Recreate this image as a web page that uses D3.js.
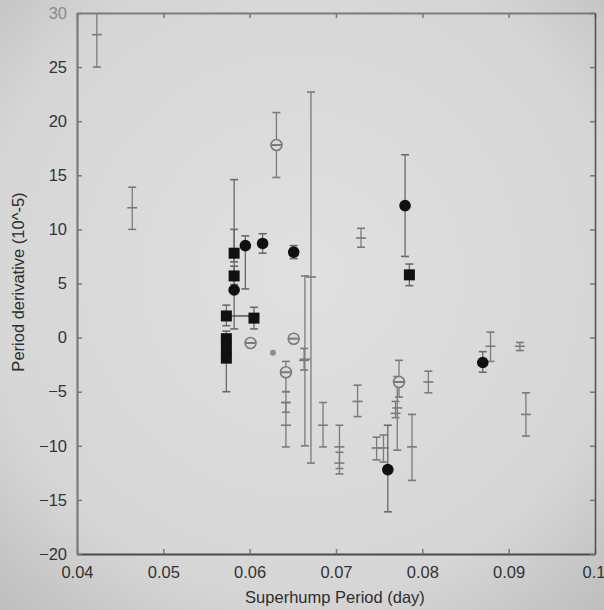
<!DOCTYPE html>
<html><head><meta charset="utf-8">
<script src="https://cdn.jsdelivr.net/npm/d3@7"></script>
<style>html,body{margin:0;padding:0;background:#d4d4d4;overflow:hidden}</style>
</head><body>
<svg id="c" width="604" height="610"></svg>
<script>
// ---- data ----
const xTicks = [0.04, 0.05, 0.06, 0.07, 0.08, 0.09, 0.1];
const yTicks = [-20, -15, -10, -5, 0, 5, 10, 15, 20, 25, 30];
const xTickLabels = ["0.04", "0.05", "0.06", "0.07", "0.08", "0.09", "0.1"];

// filled squares
const sqX  = [0.0582, 0.0582, 0.0573, 0.0605, 0.0573, 0.0573, 0.0573, 0.0785];
const sqY  = [7.8, 5.7, 2.0, 1.8, -0.1, -1.0, -1.9, 5.8];
const sqLo = [7.0, 4.9, 1.1, 0.8, -0.1, -1.0, -5.0, 4.8];
const sqHi = [10.0, 6.6, 3.0, 2.8, 0.6, -1.0, -1.9, 6.8];
// horizontal error bar (square at 0.0573, 2.0)
const hbarY = [2.0];
const hbarLo = [0.0573];
const hbarHi = [0.0605];

// filled circles
const ciX  = [0.0582, 0.0595, 0.0615, 0.0651, 0.0780, 0.0870, 0.0760];
const ciY  = [4.4, 8.5, 8.7, 7.9, 12.2, -2.3, -12.2];
const ciLo = [0.8, 4.5, 7.8, 7.3, 7.5, -3.2, -16.1];
const ciHi = [14.6, 9.4, 9.6, 8.5, 16.9, -1.3, -8.1];

// open circles with bar
const opX  = [0.0631, 0.0601, 0.0651, 0.0642, 0.0773];
const opY  = [17.8, -0.5, -0.1, -3.2, -4.1];
const opLo = [14.8, -0.5, -0.1, -5.0, -5.5];
const opHi = [20.8, -0.5, -0.1, -2.2, -2.1];

// small dot
const dotX = [0.0627];
const dotY = [-1.4];

// gray "+" points with error bars
const plX  = [0.0423, 0.0464, 0.0642, 0.0642, 0.0664, 0.0663, 0.0671, 0.0685, 0.0704, 0.0704, 0.0725, 0.0729, 0.0747, 0.0755, 0.0771, 0.0769, 0.0788, 0.0807, 0.0879, 0.0913, 0.0920];
const plY  = [28.0, 12.0, -8.1, -6.0, -2.0, -2.1, 5.6, -8.1, -10.1, -11.6, -5.9, 9.2, -10.2, -10.2, -6.5, -7.0, -10.1, -4.1, -0.8, -0.8, -7.1];
const plLo = [25.0, 10.0, -10.1, -6.9, -10.0, -3.0, -11.6, -10.1, -12.1, -12.6, -7.3, 8.35, -11.3, -11.5, -10.4, -7.4, -13.2, -5.1, -2.2, -1.2, -9.1];
const plHi = [31.0, 13.9, -6.0, -5.0, 5.7, -1.0, 22.7, -6.0, -8.1, -10.6, -4.4, 10.1, -9.2, -9.0, -3.6, -5.9, -7.1, -3.1, 0.5, -0.45, -5.1];

// ---- drawing ----
const W = 604, H = 610;
const svg = d3.select("#c");
const defs = svg.append("defs");
const grad = defs.append("radialGradient").attr("id", "bg").attr("cx", "50%").attr("cy", "45%").attr("r", "75%");
grad.append("stop").attr("offset", "0%").attr("stop-color", "#e0e0e0");
grad.append("stop").attr("offset", "70%").attr("stop-color", "#d6d6d6");
grad.append("stop").attr("offset", "100%").attr("stop-color", "#bdbdbd");
svg.append("rect").attr("width", W).attr("height", H).attr("fill", "url(#bg)");

const x = d3.scaleLinear().domain([0.04, 0.1]).range([77, 595]);
const y = d3.scaleLinear().domain([-20, 30]).range([554, 13]);

defs.append("clipPath").attr("id", "clip").append("rect")
  .attr("x", 77).attr("y", 13).attr("width", 518).attr("height", 541);

const font = "Liberation Sans, Arial, sans-serif";

// axes
const gB = svg.append("g").attr("transform", `translate(0,${y(-20)})`)
  .call(d3.axisBottom(x).tickValues(xTicks).tickFormat((d, i) => xTickLabels[i]).tickSizeInner(-5).tickSizeOuter(0).tickPadding(12));
const gL = svg.append("g").attr("transform", `translate(${x(0.04)},0)`)
  .call(d3.axisLeft(y).tickValues(yTicks).tickSizeInner(-5).tickSizeOuter(0).tickPadding(10));
const gT = svg.append("g").attr("transform", `translate(0,${y(30)})`)
  .call(d3.axisTop(x).tickValues(xTicks).tickFormat("").tickSizeInner(-5).tickSizeOuter(0));
const gR = svg.append("g").attr("transform", `translate(${x(0.1)},0)`)
  .call(d3.axisRight(y).tickValues(yTicks).tickFormat("").tickSizeInner(-5).tickSizeOuter(0));

[gB, gL, gT, gR].forEach(g => {
  g.selectAll("text").attr("font-family", font).attr("font-size", "16.5px").attr("fill", "#333");
  g.selectAll("line").attr("stroke", "#777").attr("stroke-width", 1.5);
});
gB.selectAll(".tick text").filter(d => d === 0.1).attr("text-anchor", "end").attr("dx", "10px");
gB.select(".domain").attr("stroke", "#4a4a4a").attr("stroke-width", 2);
gL.select(".domain").attr("stroke", "#7a7a7a").attr("stroke-width", 2.2);
gT.select(".domain").attr("stroke", "#7c7c7c").attr("stroke-width", 2);
gR.select(".domain").attr("stroke", "#555").attr("stroke-width", 1.6);
gL.selectAll(".tick text").filter(d => d === 30).attr("fill", "#8a8a8a");

// axis labels
svg.append("text").attr("x", 335).attr("y", 603).attr("text-anchor", "middle")
  .attr("font-family", font).attr("font-size", "16.5px").attr("fill", "#2e2e2e")
  .text("Superhump Period (day)");
svg.append("text").attr("transform", "translate(24,282) rotate(-90)").attr("text-anchor", "middle")
  .attr("font-family", font).attr("font-size", "16.5px").attr("fill", "#2e2e2e")
  .text("Period derivative (10^-5)");

const plot = svg.append("g").attr("clip-path", "url(#clip)");
const eb = "#7a7a7a";
const cap = 4;

function errBars(g, X, Y, Lo, Hi, color, width, withCenter) {
  X.forEach((xv, i) => {
    const px = x(xv);
    if (Lo[i] !== Hi[i]) {
      g.append("line").attr("x1", px).attr("x2", px).attr("y1", y(Lo[i])).attr("y2", y(Hi[i]))
        .attr("stroke", color).attr("stroke-width", width);
      [Lo[i], Hi[i]].forEach(v => g.append("line").attr("x1", px - cap).attr("x2", px + cap)
        .attr("y1", y(v)).attr("y2", y(v)).attr("stroke", color).attr("stroke-width", width + 0.3));
    }
    if (withCenter) {
      g.append("line").attr("x1", px - cap - 1).attr("x2", px + cap + 1).attr("y1", y(Y[i])).attr("y2", y(Y[i]))
        .attr("stroke", color).attr("stroke-width", width + 0.3);
    }
  });
}

// plus points
errBars(plot, plX, plY, plLo, plHi, eb, 1.3, true);
// error bars of markers
errBars(plot, opX, opY, opLo, opHi, eb, 1.3, false);
errBars(plot, sqX, sqY, sqLo, sqHi, "#6a6a6a", 1.3, false);
errBars(plot, ciX, ciY, ciLo, ciHi, "#6a6a6a", 1.3, false);
// horizontal error bar
hbarY.forEach((v, i) => {
  plot.append("line").attr("x1", x(hbarLo[i])).attr("x2", x(hbarHi[i])).attr("y1", y(v)).attr("y2", y(v))
    .attr("stroke", "#555").attr("stroke-width", 1.5);
});

// small dot
plot.selectAll(".dot").data(dotX).join("circle").attr("class", "dot")
  .attr("cx", d => x(d)).attr("cy", (d, i) => y(dotY[i])).attr("r", 3).attr("fill", "#8a8a8a");

// open circles
opX.forEach((xv, i) => {
  const px = x(xv), py = y(opY[i]);
  plot.append("circle").attr("cx", px).attr("cy", py).attr("r", 5.5)
    .attr("fill", "#dadada").attr("stroke", "#7a7a7a").attr("stroke-width", 1.6);
  plot.append("line").attr("x1", px - 5).attr("x2", px + 5).attr("y1", py).attr("y2", py)
    .attr("stroke", "#7a7a7a").attr("stroke-width", 2);
});

// filled squares
plot.selectAll(".sq").data(sqX).join("rect").attr("class", "sq")
  .attr("x", d => x(d) - 5.5).attr("y", (d, i) => y(sqY[i]) - 5.5)
  .attr("width", 11).attr("height", 11).attr("fill", "#111");

// filled circles
plot.selectAll(".ci").data(ciX).join("circle").attr("class", "ci")
  .attr("cx", d => x(d)).attr("cy", (d, i) => y(ciY[i])).attr("r", 5.8).attr("fill", "#111");
</script>
</body></html>
